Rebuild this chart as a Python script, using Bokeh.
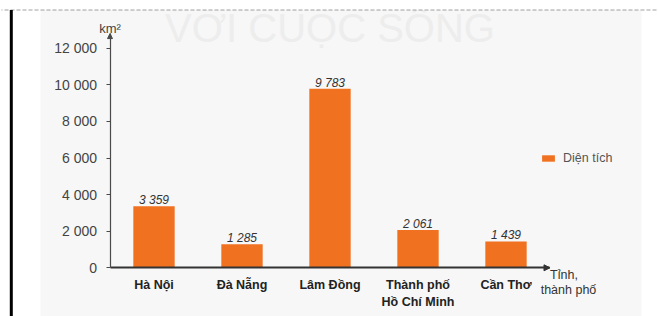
from bokeh.plotting import figure
from bokeh.models import (Range1d, FactorRange, FixedTicker, ColumnDataSource, Legend,
                          LegendItem, BoxAnnotation, Label, Arrow, NormalHead)
from bokeh.core.properties import value
from bokeh.embed import file_html
from bokeh.resources import INLINE

# ---- data ----
provinces = ["Hà Nội", "Đà Nẵng", "Lâm Đồng", "Thành phố\nHồ Chí Minh", "Cần Thơ"]
areas = [3359, 1285, 9783, 2061, 1439]
y_ticks = [0, 2000, 4000, 6000, 8000, 10000, 12000]
y_tick_labels = ["0", "2 000", "4 000", "6 000", "8 000", "10 000", "12 000"]
series_name = "Diện tích"
y_unit = "km²"
x_title_lines = ["Tỉnh,", "thành phố"]
watermark = "VỚI CUỘC SỐNG"

area_labels = [f"{v:,}".replace(",", " ") for v in areas]

FONT = "Liberation Sans"
BAR = "#F0711F"
Y_TOP = 12800  # end of the y axis arrow

src = ColumnDataSource(dict(province=provinces, area=areas, label=area_labels))

# The frame covers the whole canvas; axes are pinned with fixed_location so
# that the texts around the chart are not clipped.
p = figure(width=658, height=316,
           x_range=FactorRange(*provinces, range_padding=0.4932),
           y_range=Range1d(-2661, 14607),
           output_backend="svg", toolbar_location=None,
           min_border_left=1, min_border_right=0,
           min_border_top=0, min_border_bottom=0)
p.outline_line_color = None
p.grid.visible = False
p.background_fill_color = "white"
p.border_fill_color = "white"

def canvas_box(**kw):
    return BoxAnnotation(left_units="canvas", right_units="canvas",
                         top_units="canvas", bottom_units="canvas", **kw)

# ---- page decorations ----
p.add_layout(canvas_box(left=40, right=641, top=9.5, bottom=330,
                        fill_color="#f7f7f7", fill_alpha=1, line_color=None,
                        level="underlay"))
p.add_layout(Label(x=2.5, y=13104, text=watermark, text_align="center",
                   text_baseline="middle", text_font=FONT,
                   text_font_size="40px", text_color="#ededed", level="underlay"))
p.add_layout(canvas_box(left=-20, right=700, top=-20, bottom=9.5,
                        fill_color="white", fill_alpha=1, line_color=None,
                        level="underlay"))
p.add_layout(canvas_box(left=-20, right=700, top=9.5, bottom=400,
                        fill_alpha=0, line_color="#333333", line_width=1.5,
                        line_dash="4 2", level="overlay"))
p.add_layout(canvas_box(left=9.3, right=12.3, top=9.5, bottom=400,
                        fill_color="black", fill_alpha=1, line_color=None,
                        level="overlay"))

# ---- bars ----
r = p.vbar(x="province", top="area", width=0.47, source=src,
           fill_color=BAR, line_color=None)

p.text(x="province", y="area", text="label", source=src,
       text_align="center", text_baseline="alphabetic", y_offset=-6,
       text_font=value(FONT), text_font_style="italic",
       text_font_size="12px", text_color="#333333")

# ---- axes ----
xa = p.xaxis[0]
xa.fixed_location = 0
xa.bounds = (0, len(provinces))
xa.axis_line_width = 2
xa.axis_line_color = "#333333"
xa.major_tick_out = 0
xa.major_tick_in = 0
xa.major_label_standoff = 10
xa.major_label_text_font = FONT
xa.major_label_text_font_style = "bold"
xa.major_label_text_font_size = "12.5px"
xa.major_label_text_color = "#222222"

ya = p.yaxis[0]
ya.fixed_location = 0
ya.bounds = (0, Y_TOP)
ya.ticker = FixedTicker(ticks=y_ticks)
ya.major_label_overrides = dict(zip(y_ticks, y_tick_labels))
ya.axis_line_color = "#4a4a4a"
ya.axis_line_width = 1.2
ya.major_tick_line_color = "#4a4a4a"
ya.major_tick_out = 4
ya.major_tick_in = 0
ya.minor_tick_out = 0
ya.minor_tick_in = 0
ya.major_label_standoff = 9
ya.major_label_text_font = FONT
ya.major_label_text_font_size = "14px"
ya.major_label_text_color = "#444444"

# axis arrow heads
p.add_layout(Arrow(x_start=len(provinces) - 0.1, y_start=0, x_end=len(provinces), y_end=0,
                   line_alpha=0,
                   end=NormalHead(size=6, fill_color="#333333", line_color="#333333")))
p.add_layout(Arrow(x_start=0, y_start=Y_TOP - 500, x_end=0, y_end=Y_TOP, line_alpha=0,
                   end=NormalHead(size=5, fill_color="#4a4a4a", line_color="#4a4a4a")))

# axis titles
p.add_layout(Label(x=0, y=13077, text=y_unit, text_align="center",
                   text_baseline="middle", text_font=FONT,
                   text_font_size="13px", text_color="#444444"))
p.add_layout(Label(x=len(provinces), x_offset=14, y=-383, text=x_title_lines[0],
                   text_align="center", text_baseline="middle", text_font=FONT,
                   text_font_size="12.5px", text_color="#333333"))
p.add_layout(Label(x=len(provinces), x_offset=18.5, y=-1240, text=x_title_lines[1],
                   text_align="center", text_baseline="middle", text_font=FONT,
                   text_font_size="12.5px", text_color="#333333"))

# ---- legend ----
legend = Legend(items=[LegendItem(label=series_name, renderers=[r])],
                location=(539, 151), glyph_width=16, glyph_height=8,
                label_standoff=7, padding=0, margin=0, spacing=0,
                label_height=8, border_line_color=None,
                background_fill_alpha=0,
                label_text_font=FONT, label_text_font_size="12.5px",
                label_text_color="#555555")
p.add_layout(legend)

open("out.html", "w").write(file_html(p, INLINE))
